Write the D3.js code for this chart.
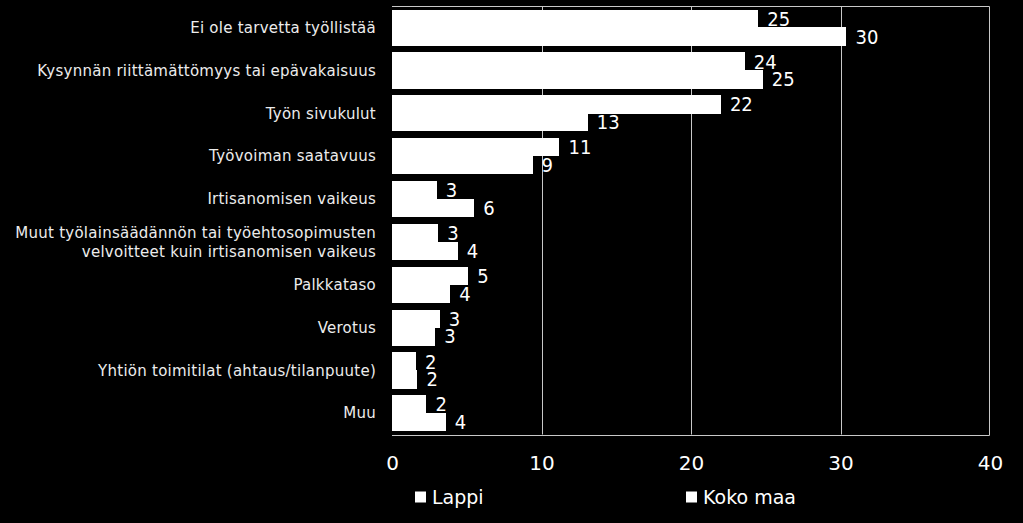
<!DOCTYPE html>
<html>
<head>
<meta charset="utf-8">
<script src="https://cdn.jsdelivr.net/npm/d3@7"></script>
<style>
  html, body { margin: 0; padding: 0; background: #000; }
  svg { display: block; }
  text { font-family: "DejaVu Sans", sans-serif; }
  .num { font-family: "DejaVu Sans Condensed", "DejaVu Sans", sans-serif; }
</style>
</head>
<body>
<svg id="chart" width="1023" height="523"></svg>
<script>
const categories = [
  "Ei ole tarvetta työllistää",
  "Kysynnän riittämättömyys tai epävakaisuus",
  "Työn sivukulut",
  "Työvoiman saatavuus",
  "Irtisanomisen vaikeus",
  "Muut työlainsäädännön tai työehtosopimusten\nvelvoitteet kuin irtisanomisen vaikeus",
  "Palkkataso",
  "Verotus",
  "Yhtiön toimitilat (ahtaus/tilanpuute)",
  "Muu"
];
const seriesNames = ["Lappi", "Koko maa"];
const lappi   = [24.5, 23.6, 22.0, 11.2, 3.0, 3.1, 5.1, 3.2, 1.6, 2.3];
const kokoMaa = [30.4, 24.8, 13.1, 9.4, 5.5, 4.4, 3.9, 2.9, 1.7, 3.6];
const xTicks = [0, 10, 20, 30, 40];

const svg = d3.select("#chart");
const plot = { left: 392, right: 990, top: 6, bottom: 434.5 };

const x = d3.scaleLinear().domain([0, 40]).range([plot.left, plot.right]);
const y0 = d3.scaleBand().domain(categories).range([plot.top, plot.bottom])
  .paddingInner(0.17).paddingOuter(0.085);
const y1 = d3.scaleBand().domain(seriesNames).range([0, y0.bandwidth()]);

const rows = categories.map((c, i) => ({ cat: c, vals: [
  { s: seriesNames[0], v: lappi[i] },
  { s: seriesNames[1], v: kokoMaa[i] }
]}));

const lineColor = "#c8c8c8";

// gridlines
svg.append("g").selectAll("line").data(xTicks.filter(t => t > 0 && t < 40)).join("line")
  .attr("x1", d => Math.round(x(d)) + 0.5).attr("x2", d => Math.round(x(d)) + 0.5)
  .attr("y1", plot.top).attr("y2", plot.bottom)
  .attr("stroke", lineColor).attr("stroke-width", 1);

// border (top, right, bottom)
const bt = Math.round(plot.top) + 0.5, bb = Math.round(plot.bottom) + 0.5, br = Math.round(plot.right) - 0.5;
svg.append("path")
  .attr("d", `M${plot.left},${bt}H${br}V${bb}H${plot.left}`)
  .attr("fill", "none").attr("stroke", lineColor).attr("stroke-width", 1);

// bars
const g = svg.append("g").selectAll("g").data(rows).join("g")
  .attr("transform", d => `translate(0,${y0(d.cat)})`);
g.selectAll("rect").data(d => d.vals).join("rect")
  .attr("x", x(0))
  .attr("y", d => y1(d.s))
  .attr("width", d => x(d.v) - x(0))
  .attr("height", y1.bandwidth() + 0.5)
  .attr("fill", "#ffffff")
  .attr("shape-rendering", "crispEdges");
g.selectAll("text").data(d => d.vals).join("text")
  .attr("class", "num")
  .attr("x", d => x(d.v) + 9)
  .attr("y", d => y1(d.s) + y1.bandwidth() / 2)
  .attr("dy", "0.36em")
  .attr("fill", "#ffffff")
  .attr("font-size", 20)
  .text(d => Math.round(d.v));

// category labels
svg.append("g").selectAll("text").data(categories).join("text")
  .attr("text-anchor", "end")
  .attr("fill", "#ececec")
  .attr("font-size", 15)
  .attr("letter-spacing", 0.25)
  .each(function(d) {
    const lines = d.split("\n");
    const cy = y0(d) + y0.bandwidth() / 2;
    const lh = 19;
    const sel = d3.select(this);
    lines.forEach((ln, i) => {
      sel.append("tspan").attr("x", 376)
        .attr("y", cy + (i - (lines.length - 1) / 2) * lh)
        .attr("dy", "0.36em").text(ln);
    });
  });

// x axis labels
const axis = d3.axisBottom(x).tickValues(xTicks).tickSize(0).tickPadding(0);
const ax = svg.append("g").attr("transform", `translate(0,${plot.bottom})`).call(axis);
ax.select(".domain").remove();
ax.selectAll("text").attr("fill", "#ffffff").attr("font-size", 20)
  .attr("font-family", "DejaVu Sans Condensed, DejaVu Sans, sans-serif")
  .attr("y", 28).attr("dy", "0.36em");

// legend
const legendX = [415, 686];
const lg = svg.append("g").selectAll("g").data(seriesNames).join("g")
  .attr("transform", (d, i) => `translate(${legendX[i]},497)`);
lg.append("rect").attr("x", 0).attr("y", -5.5).attr("width", 11).attr("height", 11).attr("fill", "#ffffff");
lg.append("text").attr("x", 17).attr("y", 0).attr("dy", "0.36em")
  .attr("fill", "#ffffff").attr("font-size", 19).text(d => d);
</script>
</body>
</html>
